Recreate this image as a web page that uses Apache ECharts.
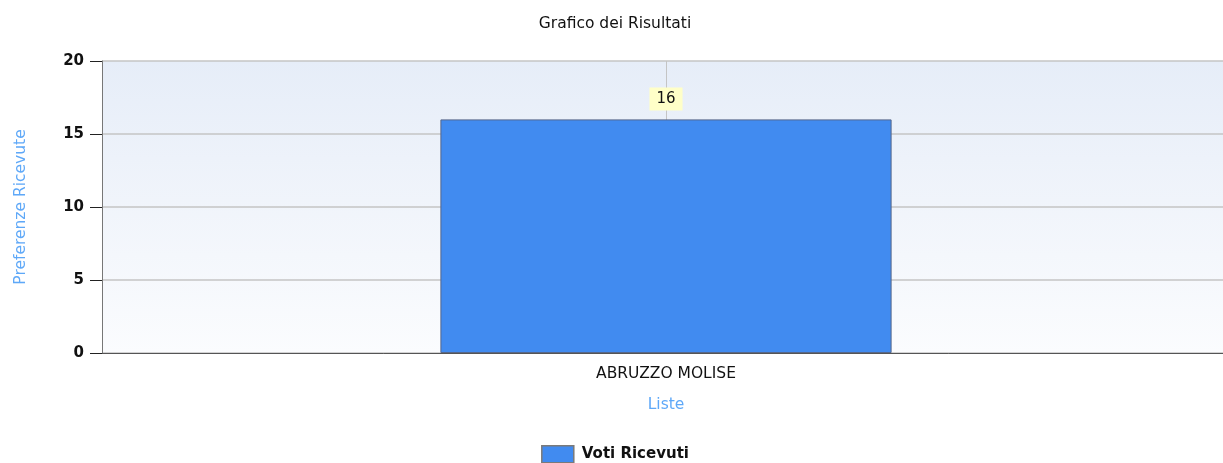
<!DOCTYPE html>
<html>
<head>
<meta charset="utf-8">
<title>Grafico dei Risultati</title>
<script src="https://cdn.jsdelivr.net/npm/echarts@6/dist/echarts.min.js"></script>
<style>
    html, body {margin: 0; padding: 0; background: #fff; overflow: hidden;}
    #chart {width: 1230px; height: 463px;}
</style>
</head>
<body>
<div id="chart"></div>
<script>
var categories = ['ABRUZZO MOLISE'];
var votes = [16];
var seriesName = 'Voti Ricevuti';
var yTicks = [0, 5, 10, 15, 20];

var fontFam = '"DejaVu Sans", sans-serif';
var nameBlue = '#5ea8f8';

var option = {
    animation: false,
    title: {text: 'Grafico dei Risultati', left: 'center', top: 11,
        textStyle: {fontSize: 15.5, fontWeight: 'normal', color: '#111', fontFamily: fontFam}},
    legend: {top: 440, left: 'center', itemWidth: 32, itemHeight: 17, icon: 'rect',
        data: [seriesName],
        itemStyle: {borderColor: '#7a7a7a', borderWidth: 1.5},
        textStyle: {fontSize: 15, fontWeight: 'bold', color: '#111', fontFamily: fontFam, padding: [0, 0, 0, 3]}},
    grid: {left: 102, right: 0, top: 61, bottom: 110, show: true, borderWidth: 0,
        outerBoundsMode: 'none', containLabel: false,
        backgroundColor: new echarts.graphic.LinearGradient(0, 0, 0, 1,
            [{offset: 0, color: '#e6edf8'}, {offset: 1, color: '#fbfcfe'}])},
    xAxis: {type: 'category', data: categories,
        name: 'Liste', nameLocation: 'middle', nameGap: 44,
        nameTextStyle: {color: nameBlue, fontSize: 15.5, fontFamily: fontFam},
        axisLine: {lineStyle: {color: '#555', width: 1}},
        axisTick: {alignWithLabel: true, length: 5, lineStyle: {color: '#222'}},
        axisLabel: {fontSize: 15.5, color: '#111', margin: 13, fontFamily: fontFam},
        splitLine: {show: true, alignWithLabel: true, lineStyle: {color: '#c4c4c4'}}},
    yAxis: {type: 'value', min: yTicks[0], max: yTicks[yTicks.length - 1], interval: 5,
        name: 'Preferenze Ricevute', nameLocation: 'middle', nameGap: 73,
        nameTextStyle: {color: nameBlue, fontSize: 15.5, fontFamily: fontFam},
        axisLine: {show: true, lineStyle: {color: '#777'}},
        axisTick: {show: true, length: 12, lineStyle: {color: '#222'}},
        axisLabel: {fontSize: 15, fontWeight: 'bold', color: '#111', margin: 18, fontFamily: fontFam},
        splitLine: {show: true, lineStyle: {color: '#c4c4c4', width: 1.5}}},
    series: [{
        name: seriesName, type: 'bar', data: votes, barWidth: '40%',
        itemStyle: {color: '#418bf0', borderColor: '#56678a', borderWidth: 1},
        label: {show: true, position: 'top', distance: 9, color: '#111', fontSize: 15,
            fontFamily: fontFam, backgroundColor: '#ffffc8', padding: [4, 7]}
    }]
};

var myChart = echarts.init(document.getElementById('chart'));
myChart.setOption(option);
</script>
</body>
</html>
